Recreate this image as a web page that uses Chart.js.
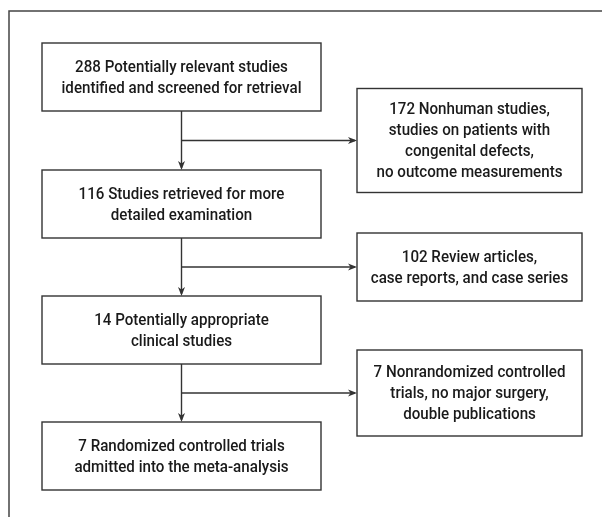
<!DOCTYPE html>
<html>
<head>
<meta charset="utf-8">
<script src="https://cdn.jsdelivr.net/npm/chart.js@4"></script>
<style>
  html, body { margin: 0; padding: 0; background: #fff; }
  #wrap { width: 602px; height: 517px; }
</style>
</head>
<body>
<div id="wrap"><canvas id="flow" width="602" height="517"></canvas></div>
<script>
// study counts at each step of the selection
var stageCounts = [288, 116, 14, 7];
var stageLabels = [
  ['Potentially relevant studies', 'identified and screened for retrieval'],
  ['Studies retrieved for more', 'detailed examination'],
  ['Potentially appropriate', 'clinical studies'],
  ['Randomized controlled trials', 'admitted into the meta-analysis']
];
// studies excluded between steps
var excludedCounts = [172, 102, 7];
var excludedLabels = [
  ['Nonhuman studies,', 'studies on patients with', 'congenital defects,', 'no outcome measurements'],
  ['Review articles,', 'case reports, and case series'],
  ['Nonrandomized controlled', 'trials, no major surgery,', 'double publications']
];

// layout, in scale units (x 0..602, y 0..517 from top)
var mainX = 181.5, mainW = 279, mainH = 68;
var mainY = [77, 204, 330, 456];
var sideX = 469.5, sideW = 225;
var sideH = [104, 68, 86];
var lineGap = 21;
var ink = '#333';
var textInk = '#1a1a1a';
var font = '500 17px Roboto, "Liberation Sans", sans-serif';
var refWidth = 240; // width of the longest line in the reference, px

function lines(count, label) {
  var out = label.slice();
  out[0] = count + ' ' + out[0];
  return out;
}

var mainPoints = stageCounts.map(function(c, i) {
  return {x: mainX, y: mainY[i], w: mainW, h: mainH, text: lines(c, stageLabels[i])};
});
var sidePoints = excludedCounts.map(function(c, i) {
  var y = (mainY[i] + mainH / 2 + mainY[i + 1] - mainH / 2) / 2;
  return {x: sideX, y: y, w: sideW, h: sideH[i], text: lines(c, excludedLabels[i])};
});

function arrowHead(ctx, x, y, dir) {
  ctx.beginPath();
  if (dir === 'down') {
    ctx.moveTo(x, y);
    ctx.lineTo(x - 3.5, y - 9);
    ctx.lineTo(x, y - 6.5);
    ctx.lineTo(x + 3.5, y - 9);
  } else {
    ctx.moveTo(x, y);
    ctx.lineTo(x - 9, y - 3.5);
    ctx.lineTo(x - 6.5, y);
    ctx.lineTo(x - 9, y + 3.5);
  }
  ctx.closePath();
  ctx.fill();
}

var flowPlugin = {
  id: 'flow',
  afterDatasetsDraw: function(chart) {
    var ctx = chart.ctx;
    var sx = chart.scales.x, sy = chart.scales.y;
    function px(v) { return sx.getPixelForValue(v); }
    function py(v) { return sy.getPixelForValue(v); }

    ctx.save();
    ctx.strokeStyle = '#444';
    ctx.lineWidth = 1.5;
    ctx.beginPath();
    ctx.moveTo(px(9), py(520));
    ctx.lineTo(px(9), py(11));
    ctx.lineTo(px(605), py(11));
    ctx.stroke();

    ctx.strokeStyle = ink;
    ctx.fillStyle = ink;
    ctx.lineWidth = 1.4;

    // connectors
    for (var i = 0; i < mainPoints.length - 1; i++) {
      var a = mainPoints[i], b = mainPoints[i + 1], s = sidePoints[i];
      var x0 = px(a.x);
      var y0 = py(a.y + a.h / 2), y1 = py(b.y - b.h / 2);
      ctx.beginPath();
      ctx.moveTo(x0, y0);
      ctx.lineTo(x0, y1 - 2);
      ctx.stroke();
      arrowHead(ctx, x0, y1, 'down');
      var yb = py(s.y), xe = px(s.x - s.w / 2);
      ctx.beginPath();
      ctx.moveTo(x0, yb);
      ctx.lineTo(xe - 2, yb);
      ctx.stroke();
      arrowHead(ctx, xe, yb, 'right');
    }

    // boxes
    ctx.font = font;
    ctx.textAlign = 'center';
    ctx.textBaseline = 'middle';
    var squeeze = refWidth / ctx.measureText(mainPoints[0].text[1]).width;
    mainPoints.concat(sidePoints).forEach(function(p) {
      var l = px(p.x - p.w / 2), r = px(p.x + p.w / 2);
      var t = py(p.y - p.h / 2), btm = py(p.y + p.h / 2);
      ctx.fillStyle = '#fff';
      ctx.fillRect(l, t, r - l, btm - t);
      ctx.strokeStyle = ink;
      ctx.strokeRect(l, t, r - l, btm - t);
      ctx.fillStyle = textInk;
      var cy = py(p.y);
      p.text.forEach(function(s, k) {
        ctx.save();
        ctx.translate(px(p.x), cy + (k - (p.text.length - 1) / 2) * lineGap + 1);
        ctx.scale(squeeze, 1);
        ctx.fillText(s, 0, 0);
        ctx.restore();
      });
    });
    ctx.restore();
  }
};

new Chart(document.getElementById('flow'), {
  type: 'scatter',
  data: {
    datasets: [
      {data: mainPoints, pointRadius: 0},
      {data: sidePoints, pointRadius: 0}
    ]
  },
  options: {
    responsive: false,
    animation: false,
    devicePixelRatio: 1,
    layout: {padding: 0},
    scales: {
      x: {type: 'linear', min: 0, max: 602, display: false},
      y: {type: 'linear', min: 0, max: 517, reverse: true, display: false}
    },
    plugins: {legend: {display: false}, tooltip: {enabled: false}}
  },
  plugins: [flowPlugin]
});
</script>
</body>
</html>
